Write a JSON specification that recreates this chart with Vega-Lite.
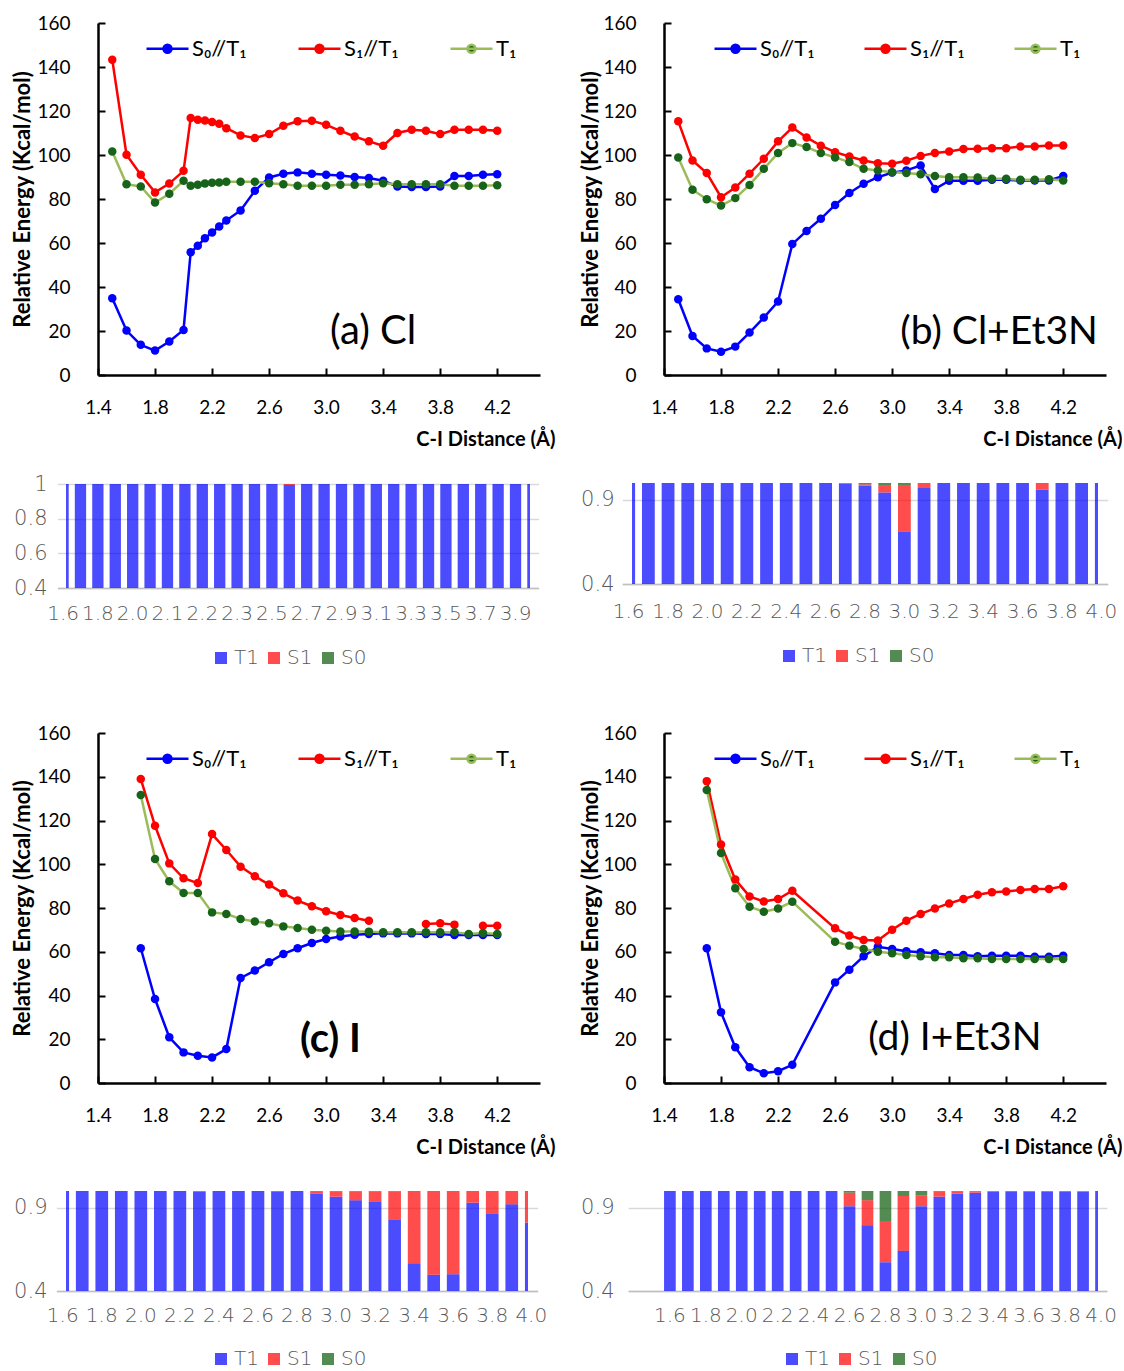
{
"$schema": "https://vega.github.io/schema/vega-lite/v6.json",
"background": "white",
"padding": {"left": 11, "top": 14, "right": 0, "bottom": 0},
"config": {"view": {"stroke": null}, "legend": {"padding": 0}},
"datasets": {
"lineA": [
{"x":1.5,"S0":34.9,"S1":143.3,"T1":101.6},{"x":1.6,"S0":20.2,"S1":100.1,"T1":86.7},{"x":1.7,"S0":13.7,"S1":91,"T1":85.7},{"x":1.8,"S0":11.1,"S1":83,"T1":78.4},{"x":1.9,"S0":15.2,"S1":87,"T1":82.4},{"x":2.0,"S0":20.5,"S1":92.8,"T1":88.3},{"x":2.05,"S0":55.8,"S1":116.8,"T1":86},{"x":2.1,"S0":58.7,"S1":116,"T1":86.5},{"x":2.15,"S0":62.2,"S1":115.7,"T1":87},{"x":2.2,"S0":64.8,"S1":115,"T1":87.4},{"x":2.25,"S0":67.5,"S1":114.2,"T1":87.5},{"x":2.3,"S0":70.2,"S1":112.2,"T1":87.8},{"x":2.4,"S0":74.8,"S1":108.9,"T1":87.8},{"x":2.5,"S0":83.7,"S1":107.7,"T1":87.8},{"x":2.6,"S0":89.8,"S1":109.5,"T1":87.2},{"x":2.7,"S0":91.5,"S1":113.3,"T1":86.7},{"x":2.8,"S0":92.1,"S1":115.3,"T1":86},{"x":2.9,"S0":91.5,"S1":115.6,"T1":86},{"x":3.0,"S0":91,"S1":113.7,"T1":86},{"x":3.1,"S0":90.7,"S1":111,"T1":86.5},{"x":3.2,"S0":90,"S1":108.4,"T1":86.5},{"x":3.3,"S0":89.5,"S1":106.2,"T1":86.7},{"x":3.4,"S0":88.3,"S1":104.2,"T1":87.2},{"x":3.5,"S0":85.7,"S1":110,"T1":86.7},{"x":3.6,"S0":85.4,"S1":111.5,"T1":86.7},{"x":3.7,"S0":85.4,"S1":111,"T1":86.7},{"x":3.8,"S0":85.7,"S1":109.5,"T1":86.7},{"x":3.9,"S0":90.5,"S1":111.5,"T1":86},{"x":4.0,"S0":90.5,"S1":111.5,"T1":86},{"x":4.1,"S0":91,"S1":111.5,"T1":86},{"x":4.2,"S0":91.3,"S1":111,"T1":86.2}
],
"lineB": [
{"x":1.5,"S0":34.4,"S1":115.3,"T1":98.9},{"x":1.6,"S0":17.7,"S1":97.5,"T1":84.2},{"x":1.7,"S0":12.1,"S1":91.8,"T1":79.9},{"x":1.8,"S0":10.6,"S1":80.8,"T1":77},{"x":1.9,"S0":12.9,"S1":85.2,"T1":80.4},{"x":2.0,"S0":19.3,"S1":91.5,"T1":86.4},{"x":2.1,"S0":26.1,"S1":98.3,"T1":93.7},{"x":2.2,"S0":33.4,"S1":106.2,"T1":100.9},{"x":2.3,"S0":59.5,"S1":112.5,"T1":105.4},{"x":2.4,"S0":65.5,"S1":108,"T1":103.6},{"x":2.5,"S0":71,"S1":104.2,"T1":100.9},{"x":2.6,"S0":77.3,"S1":101.3,"T1":98.9},{"x":2.7,"S0":82.7,"S1":99.3,"T1":96.8},{"x":2.8,"S0":86.9,"S1":97.5,"T1":93.7},{"x":2.9,"S0":89.9,"S1":96.3,"T1":93},{"x":3.0,"S0":92,"S1":96,"T1":92.2},{"x":3.1,"S0":93,"S1":97.4,"T1":91.8},{"x":3.2,"S0":95.2,"S1":99.6,"T1":91.3},{"x":3.3,"S0":84.5,"S1":100.9,"T1":90.5},{"x":3.4,"S0":88.3,"S1":101.6,"T1":89.9},{"x":3.5,"S0":88.3,"S1":102.7,"T1":89.9},{"x":3.6,"S0":88.3,"S1":102.8,"T1":89.8},{"x":3.7,"S0":88.7,"S1":103.1,"T1":89.2},{"x":3.8,"S0":88.7,"S1":103.1,"T1":89.2},{"x":3.9,"S0":88.4,"S1":103.9,"T1":88.7},{"x":4.0,"S0":88.4,"S1":103.9,"T1":88.7},{"x":4.1,"S0":88.4,"S1":104.3,"T1":89},{"x":4.2,"S0":90.5,"S1":104.3,"T1":88.4}
],
"lineC": [
{"x":1.7,"S0":61.6,"S1":139,"T1":131.7},{"x":1.8,"S0":38.4,"S1":117.6,"T1":102.4},{"x":1.9,"S0":20.9,"S1":100.4,"T1":92.2},{"x":2.0,"S0":14,"S1":93.6,"T1":86.9},{"x":2.1,"S0":12.5,"S1":91.4,"T1":86.9},{"x":2.2,"S0":11.7,"S1":113.8,"T1":78},{"x":2.3,"S0":15.5,"S1":106.5,"T1":77.3},{"x":2.4,"S0":48,"S1":98.9,"T1":75},{"x":2.5,"S0":51.4,"S1":94.5,"T1":73.8},{"x":2.6,"S0":55.2,"S1":90.7,"T1":73},{"x":2.7,"S0":59,"S1":86.7,"T1":71.6},{"x":2.8,"S0":61.6,"S1":83.4,"T1":70.9},{"x":2.9,"S0":64,"S1":80.8,"T1":70.1},{"x":3.0,"S0":65.8,"S1":78.5,"T1":69.6},{"x":3.1,"S0":67,"S1":76.8,"T1":69.3},{"x":3.2,"S0":67.8,"S1":75.4,"T1":69.3},{"x":3.3,"S0":68.1,"S1":74.2,"T1":69.2},{"x":3.4,"S0":68.4,"S1":null,"T1":68.9},{"x":3.5,"S0":68.4,"S1":null,"T1":68.9},{"x":3.6,"S0":68.4,"S1":null,"T1":68.9},{"x":3.7,"S0":68.1,"S1":72.7,"T1":68.9},{"x":3.8,"S0":68.1,"S1":73,"T1":68.9},{"x":3.9,"S0":67.7,"S1":72.4,"T1":68.9},{"x":4.0,"S0":67.7,"S1":null,"T1":68.1},{"x":4.1,"S0":67.7,"S1":71.9,"T1":68.6},{"x":4.2,"S0":67.7,"S1":71.9,"T1":68.1}
],
"lineD": [
{"x":1.7,"S0":61.6,"S1":138,"T1":133.9},{"x":1.8,"S0":32.3,"S1":109,"T1":105.1},{"x":1.9,"S0":16.3,"S1":93,"T1":89},{"x":2.0,"S0":7.2,"S1":85.3,"T1":80.6},{"x":2.1,"S0":4.5,"S1":83,"T1":78.3},{"x":2.2,"S0":5.4,"S1":84.1,"T1":79.8},{"x":2.3,"S0":8.3,"S1":87.9,"T1":82.9},{"x":2.6,"S0":46,"S1":70.7,"T1":64.6},{"x":2.7,"S0":51.8,"S1":67.4,"T1":62.8},{"x":2.8,"S0":57.9,"S1":65.4,"T1":61.3},{"x":2.9,"S0":62.3,"S1":65.1,"T1":60},{"x":3.0,"S0":61.3,"S1":70.1,"T1":59.3},{"x":3.1,"S0":60.2,"S1":74.2,"T1":58.5},{"x":3.2,"S0":59.8,"S1":77.3,"T1":57.9},{"x":3.3,"S0":59.3,"S1":79.8,"T1":57.5},{"x":3.4,"S0":58.5,"S1":82.1,"T1":57.5},{"x":3.5,"S0":58.5,"S1":84.1,"T1":57},{"x":3.6,"S0":57.9,"S1":86.1,"T1":57},{"x":3.7,"S0":58.2,"S1":87.2,"T1":56.7},{"x":3.8,"S0":58.2,"S1":87.5,"T1":56.7},{"x":3.9,"S0":58.2,"S1":88.2,"T1":56.7},{"x":4.0,"S0":57.7,"S1":88.7,"T1":56.7},{"x":4.1,"S0":57.7,"S1":88.7,"T1":56.7},{"x":4.2,"S0":58.2,"S1":89.9,"T1":56.7}
],
"barA": [
{"d":"1.6","T1":1,"S1":0,"S0":0},{"d":"1.7","T1":1,"S1":0,"S0":0},{"d":"1.8","T1":1,"S1":0,"S0":0},{"d":"1.9","T1":1,"S1":0,"S0":0},{"d":"2.0","T1":1,"S1":0,"S0":0},{"d":"2.05","T1":1,"S1":0,"S0":0},{"d":"2.1","T1":1,"S1":0,"S0":0},{"d":"2.15","T1":1,"S1":0,"S0":0},{"d":"2.2","T1":1,"S1":0,"S0":0},{"d":"2.25","T1":1,"S1":0,"S0":0},{"d":"2.3","T1":1,"S1":0,"S0":0},{"d":"2.4","T1":1,"S1":0,"S0":0},{"d":"2.5","T1":1,"S1":0,"S0":0},{"d":"2.6","T1":0.995,"S1":0.005,"S0":0},{"d":"2.7","T1":1,"S1":0,"S0":0},{"d":"2.8","T1":1,"S1":0,"S0":0},{"d":"2.9","T1":1,"S1":0,"S0":0},{"d":"3.0","T1":1,"S1":0,"S0":0},{"d":"3.1","T1":1,"S1":0,"S0":0},{"d":"3.2","T1":1,"S1":0,"S0":0},{"d":"3.3","T1":1,"S1":0,"S0":0},{"d":"3.4","T1":1,"S1":0,"S0":0},{"d":"3.5","T1":1,"S1":0,"S0":0},{"d":"3.6","T1":1,"S1":0,"S0":0},{"d":"3.7","T1":1,"S1":0,"S0":0},{"d":"3.8","T1":1,"S1":0,"S0":0},{"d":"3.9","T1":1,"S1":0,"S0":0},{"d":"4.0","T1":1,"S1":0,"S0":0}
],
"barB": [
{"d":"1.6","T1":1,"S1":0,"S0":0},{"d":"1.7","T1":1,"S1":0,"S0":0},{"d":"1.8","T1":1,"S1":0,"S0":0},{"d":"1.9","T1":1,"S1":0,"S0":0},{"d":"2.0","T1":1,"S1":0,"S0":0},{"d":"2.1","T1":1,"S1":0,"S0":0},{"d":"2.2","T1":1,"S1":0,"S0":0},{"d":"2.3","T1":1,"S1":0,"S0":0},{"d":"2.4","T1":1,"S1":0,"S0":0},{"d":"2.5","T1":1,"S1":0,"S0":0},{"d":"2.6","T1":1,"S1":0,"S0":0},{"d":"2.7","T1":0.994,"S1":0.004,"S0":0.002},{"d":"2.8","T1":0.984,"S1":0.008,"S0":0.008},{"d":"2.9","T1":0.944,"S1":0.044,"S0":0.012},{"d":"3.0","T1":0.71,"S1":0.278,"S0":0.012},{"d":"3.1","T1":0.97,"S1":0.03,"S0":0},{"d":"3.2","T1":1,"S1":0,"S0":0},{"d":"3.3","T1":1,"S1":0,"S0":0},{"d":"3.4","T1":1,"S1":0,"S0":0},{"d":"3.5","T1":1,"S1":0,"S0":0},{"d":"3.6","T1":1,"S1":0,"S0":0},{"d":"3.7","T1":0.96,"S1":0.04,"S0":0},{"d":"3.8","T1":1,"S1":0,"S0":0},{"d":"3.9","T1":1,"S1":0,"S0":0},{"d":"4.0","T1":1,"S1":0,"S0":0}
],
"barC": [
{"d":"1.6","T1":1,"S1":0,"S0":0},{"d":"1.7","T1":1,"S1":0,"S0":0},{"d":"1.8","T1":1,"S1":0,"S0":0},{"d":"1.9","T1":1,"S1":0,"S0":0},{"d":"2.0","T1":1,"S1":0,"S0":0},{"d":"2.1","T1":1,"S1":0,"S0":0},{"d":"2.2","T1":1,"S1":0,"S0":0},{"d":"2.3","T1":0.997,"S1":0.003,"S0":0},{"d":"2.4","T1":1,"S1":0,"S0":0},{"d":"2.5","T1":1,"S1":0,"S0":0},{"d":"2.6","T1":1,"S1":0,"S0":0},{"d":"2.7","T1":0.997,"S1":0,"S0":0.003},{"d":"2.8","T1":1,"S1":0,"S0":0},{"d":"2.9","T1":0.984,"S1":0.012,"S0":0.004},{"d":"3.0","T1":0.966,"S1":0.031,"S0":0.003},{"d":"3.1","T1":0.944,"S1":0.053,"S0":0.003},{"d":"3.2","T1":0.935,"S1":0.062,"S0":0.003},{"d":"3.3","T1":0.827,"S1":0.17,"S0":0.003},{"d":"3.4","T1":0.567,"S1":0.433,"S0":0},{"d":"3.5","T1":0.497,"S1":0.503,"S0":0},{"d":"3.6","T1":0.5,"S1":0.5,"S0":0},{"d":"3.7","T1":0.93,"S1":0.07,"S0":0},{"d":"3.8","T1":0.863,"S1":0.137,"S0":0},{"d":"3.9","T1":0.92,"S1":0.08,"S0":0},{"d":"4.0","T1":0.81,"S1":0.19,"S0":0}
],
"barD": [
{"d":"1.6","T1":1,"S1":0,"S0":0},{"d":"1.7","T1":1,"S1":0,"S0":0},{"d":"1.8","T1":1,"S1":0,"S0":0},{"d":"1.9","T1":1,"S1":0,"S0":0},{"d":"2.0","T1":1,"S1":0,"S0":0},{"d":"2.1","T1":1,"S1":0,"S0":0},{"d":"2.2","T1":1,"S1":0,"S0":0},{"d":"2.3","T1":1,"S1":0,"S0":0},{"d":"2.4","T1":1,"S1":0,"S0":0},{"d":"2.5","T1":1,"S1":0,"S0":0},{"d":"2.6","T1":0.909,"S1":0.081,"S0":0.01},{"d":"2.7","T1":0.794,"S1":0.151,"S0":0.055},{"d":"2.8","T1":0.573,"S1":0.242,"S0":0.185},{"d":"2.9","T1":0.641,"S1":0.329,"S0":0.03},{"d":"3.0","T1":0.909,"S1":0.065,"S0":0.026},{"d":"3.1","T1":0.966,"S1":0.03,"S0":0.004},{"d":"3.2","T1":0.984,"S1":0.012,"S0":0.004},{"d":"3.3","T1":0.99,"S1":0.008,"S0":0.002},{"d":"3.4","T1":0.994,"S1":0.004,"S0":0.002},{"d":"3.5","T1":0.997,"S1":0,"S0":0.003},{"d":"3.6","T1":0.997,"S1":0.003,"S0":0},{"d":"3.7","T1":0.997,"S1":0.003,"S0":0},{"d":"3.8","T1":0.997,"S1":0.003,"S0":0},{"d":"3.9","T1":0.996,"S1":0.004,"S0":0},{"d":"4.0","T1":1,"S1":0,"S0":0}
]
},
"columns": 2, "align": "none", "spacing": 24,
"resolve": {"scale": {"color": "independent", "fill": "independent", "x": "independent", "y": "independent"}, "legend": {"color": "independent", "fill": "independent"}, "axis": {"x": "independent", "y": "independent"}},
"concat": [
{"columns": 1, "align": "none", "spacing": 56,
 "resolve": {"scale": {"color": "independent", "fill": "independent", "x": "independent", "y": "independent"}, "legend": {"color": "independent", "fill": "independent"}},
 "concat": [
 {"columns": 1, "align": "none", "spacing": 24,
  "resolve": {"scale": {"color": "independent", "fill": "independent", "x": "independent", "y": "independent"}, "legend": {"color": "independent", "fill": "independent"}},
  "concat": [
  {"width": 474, "height": 352, "data": {"name": "lineA"},
   "layer": [
    {"transform": [{"fold": ["S0","S1","T1"], "as": ["s","E"]}],
     "mark": {"type": "line", "strokeWidth": 2.5},
     "encoding": {
      "x": {"field": "x", "type": "quantitative", "scale": {"domain": [1.4, 4.5], "range": [32, 474], "nice": false, "zero": false},
        "axis": {"values": [1.4,1.8,2.2,2.6,3.0,3.4,3.8,4.2], "format": ".1f", "grid": false, "domainColor": "#000", "domainWidth": 2.5, "tickColor": "#000", "tickWidth": 2, "tickSize": -7, "labelPadding": 30, "labelFont": "Lato", "labelFontSize": 19, "labelColor": "#000", "labelFlush": false, "labelOverlap": false, "title": "C-I Distance (Å)", "titleFont": "Lato", "titleFontSize": 20, "titleFontWeight": "bold", "titleColor": "#000", "titleAlign": "right", "titleAnchor": "end", "titleX": 489, "titleY": 64, "titleBaseline": "middle"}},
      "y": {"field": "E", "type": "quantitative", "scale": {"domain": [0, 160], "nice": false},
        "axis": {"offset": -32, "values": [0,20,40,60,80,100,120,140,160], "grid": false, "domainColor": "#000", "domainWidth": 2.5, "tickColor": "#000", "tickWidth": 2, "tickSize": -7, "labelPadding": 35, "labelFont": "Lato", "labelFontSize": 19, "labelColor": "#000", "labelFlush": false, "title": "Relative Energy (Kcal/mol)", "titleFont": "Lato", "titleFontSize": 22, "titleFontWeight": "bold", "titleColor": "#000", "titleX": -76, "titleY": 176, "titleAngle": -90, "titleAlign": "center", "titleBaseline": "middle"}},
      "color": {"field": "s", "type": "nominal", "scale": {"domain": ["S0","S1","T1"], "range": ["#0000FF","#FF0000","#9BBB59"]},
        "legend": {"orient": "none", "legendX": 79, "legendY": 3, "direction": "horizontal", "title": null, "symbolType": "M-1,0L1,0M-0.19,0A0.19,0.19,0,1,1,0.19,0A0.19,0.19,0,1,1,-0.19,0Z", "symbolSize": 1764, "symbolStrokeWidth": 2.5, "labelFont": "Lato", "labelFontSize": 22, "labelColor": "#000", "labelOffset": 2, "columnPadding": 46, "gridAlign": "all", "padding": 0, "labelExpr": "datum.label == 'S0' ? 'S₀//T₁' : datum.label == 'S1' ? 'S₁//T₁' : 'T₁'",
          "encode": {"symbols": {"update": {"fill": [{"test": "datum.value === 'T1'", "value": "#17631A"}, {"test": "datum.value === 'S1'", "value": "#FF0000"}, {"value": "#0000FF"}], "fillOpacity": {"value": 1}}}}}}
     }},
    {"transform": [{"fold": ["S0","S1","T1"], "as": ["s","E"]}],
     "mark": {"type": "point", "filled": true, "size": 72, "opacity": 1, "strokeWidth": 0},
     "encoding": {"x": {"field": "x", "type": "quantitative"}, "y": {"field": "E", "type": "quantitative"},
      "fill": {"field": "s", "type": "nominal", "scale": {"domain": ["S0","S1","T1"], "range": ["#0000FF","#FF0000","#17631A"]}, "legend": null}}},
    {"data": {"values": [{"t": "(a) Cl"}]},
     "mark": {"type": "text", "font": "Lato", "fontSize": 40, "color": "#000"},
     "encoding": {"x": {"datum": 3.33}, "y": {"datum": 19.5}, "text": {"field": "t"}}}
   ]},
  {"width": 464, "height": 104, "data": {"name": "barA"},
   "transform": [{"fold": ["T1","S1","S0"], "as": ["st","p"]}],
   "mark": {"type": "bar", "clip": true, "opacity": 0.7},
   "encoding": {
    "x": {"field": "d", "type": "ordinal", "scale": {"type": "band", "domain": ["1.6","1.7","1.8","1.9","2.0","2.05","2.1","2.15","2.2","2.25","2.3","2.4","2.5","2.6","2.7","2.8","2.9","3.0","3.1","3.2","3.3","3.4","3.5","3.6","3.7","3.8","3.9","4.0"], "range": [-8.59, 472.59], "paddingInner": 0.35, "paddingOuter": 0},
      "axis": {"values": ["1.6","1.8","2.0","2.1","2.2","2.3","2.5","2.7","2.9","3.1","3.3","3.5","3.7","3.9"], "labelAngle": 0, "labelOverlap": false, "labelFont": "DejaVu Sans", "labelFontWeight": 200, "labelFontSize": 20, "labelColor": "#595959", "labelPadding": 15, "ticks": false, "domainColor": "#BFBFBF", "domainWidth": 1.5, "title": null, "grid": false}},
    "y": {"field": "p", "type": "quantitative", "stack": "zero", "scale": {"domain": [0.4, 1], "nice": false, "zero": false},
      "axis": {"values": [0.4,0.6,0.8,1], "format": "~g", "grid": true, "gridColor": "#D9D9D9", "gridWidth": 1.5, "domain": false, "ticks": false, "labelFont": "DejaVu Sans", "labelFontWeight": 200, "labelFontSize": 21, "labelColor": "#595959", "labelPadding": 19, "title": null}},
    "color": {"field": "st", "type": "nominal", "scale": {"domain": ["T1","S1","S0"], "range": ["#0000FF","#FF0000","#0A5A0A"]},
      "legend": {"orient": "none", "legendX": 145, "legendY": 164, "direction": "horizontal", "title": null, "symbolType": "square", "symbolSize": 144, "symbolStrokeWidth": 0, "labelFont": "DejaVu Sans", "labelFontWeight": 200, "labelFontSize": 20, "labelColor": "#595959", "labelOffset": 3, "columnPadding": 5, "padding": 0}},
    "order": {"field": "st", "sort": "descending"}
   }}
 ]},
 {"columns": 1, "align": "none", "spacing": 34,
  "resolve": {"scale": {"color": "independent", "fill": "independent", "x": "independent", "y": "independent"}, "legend": {"color": "independent", "fill": "independent"}},
  "concat": [
  {"width": 474, "height": 350, "data": {"name": "lineC"},
   "layer": [
    {"transform": [{"fold": ["S0","S1","T1"], "as": ["s","E"]}],
     "mark": {"type": "line", "strokeWidth": 2.5},
     "encoding": {
      "x": {"field": "x", "type": "quantitative", "scale": {"domain": [1.4, 4.5], "range": [32, 474], "nice": false, "zero": false},
        "axis": {"values": [1.4,1.8,2.2,2.6,3.0,3.4,3.8,4.2], "format": ".1f", "grid": false, "domainColor": "#000", "domainWidth": 2.5, "tickColor": "#000", "tickWidth": 2, "tickSize": -7, "labelPadding": 30, "labelFont": "Lato", "labelFontSize": 19, "labelColor": "#000", "labelFlush": false, "labelOverlap": false, "title": "C-I Distance (Å)", "titleFont": "Lato", "titleFontSize": 20, "titleFontWeight": "bold", "titleColor": "#000", "titleAlign": "right", "titleAnchor": "end", "titleX": 489, "titleY": 64, "titleBaseline": "middle"}},
      "y": {"field": "E", "type": "quantitative", "scale": {"domain": [0, 160], "nice": false},
        "axis": {"offset": -32, "values": [0,20,40,60,80,100,120,140,160], "grid": false, "domainColor": "#000", "domainWidth": 2.5, "tickColor": "#000", "tickWidth": 2, "tickSize": -7, "labelPadding": 35, "labelFont": "Lato", "labelFontSize": 19, "labelColor": "#000", "labelFlush": false, "title": "Relative Energy (Kcal/mol)", "titleFont": "Lato", "titleFontSize": 22, "titleFontWeight": "bold", "titleColor": "#000", "titleX": -76, "titleY": 175, "titleAngle": -90, "titleAlign": "center", "titleBaseline": "middle"}},
      "color": {"field": "s", "type": "nominal", "scale": {"domain": ["S0","S1","T1"], "range": ["#0000FF","#FF0000","#9BBB59"]},
        "legend": {"orient": "none", "legendX": 79, "legendY": 3, "direction": "horizontal", "title": null, "symbolType": "M-1,0L1,0M-0.19,0A0.19,0.19,0,1,1,0.19,0A0.19,0.19,0,1,1,-0.19,0Z", "symbolSize": 1764, "symbolStrokeWidth": 2.5, "labelFont": "Lato", "labelFontSize": 22, "labelColor": "#000", "labelOffset": 2, "columnPadding": 46, "gridAlign": "all", "padding": 0, "labelExpr": "datum.label == 'S0' ? 'S₀//T₁' : datum.label == 'S1' ? 'S₁//T₁' : 'T₁'",
          "encode": {"symbols": {"update": {"fill": [{"test": "datum.value === 'T1'", "value": "#17631A"}, {"test": "datum.value === 'S1'", "value": "#FF0000"}, {"value": "#0000FF"}], "fillOpacity": {"value": 1}}}}}}
     }},
    {"transform": [{"fold": ["S0","S1","T1"], "as": ["s","E"]}],
     "mark": {"type": "point", "filled": true, "size": 72, "opacity": 1, "strokeWidth": 0},
     "encoding": {"x": {"field": "x", "type": "quantitative"}, "y": {"field": "E", "type": "quantitative"},
      "fill": {"field": "s", "type": "nominal", "scale": {"domain": ["S0","S1","T1"], "range": ["#0000FF","#FF0000","#17631A"]}, "legend": null}}},
    {"data": {"values": [{"t": "(c) I"}]},
     "mark": {"type": "text", "font": "Lato", "fontSize": 40, "fontWeight": "bold", "color": "#000"},
     "encoding": {"x": {"datum": 3.03}, "y": {"datum": 19.7}, "text": {"field": "t"}}}
   ]},
  {"width": 462, "height": 100, "data": {"name": "barC"},
   "transform": [{"fold": ["T1","S1","S0"], "as": ["st","p"]}],
   "mark": {"type": "bar", "clip": true, "opacity": 0.7},
   "encoding": {
    "x": {"field": "d", "type": "ordinal", "scale": {"type": "band", "domain": ["1.6","1.7","1.8","1.9","2.0","2.1","2.2","2.3","2.4","2.5","2.6","2.7","2.8","2.9","3.0","3.1","3.2","3.3","3.4","3.5","3.6","3.7","3.8","3.9","4.0"], "range": [-9.63, 471.63], "paddingInner": 0.35, "paddingOuter": 0},
      "axis": {"values": ["1.6","1.8","2.0","2.2","2.4","2.6","2.8","3.0","3.2","3.4","3.6","3.8","4.0"], "labelAngle": 0, "labelOverlap": false, "labelFont": "DejaVu Sans", "labelFontWeight": 200, "labelFontSize": 20, "labelColor": "#595959", "labelPadding": 14, "ticks": false, "domainColor": "#BFBFBF", "domainWidth": 1.5, "title": null, "grid": false}},
    "y": {"field": "p", "type": "quantitative", "stack": "zero", "scale": {"domain": [0.4, 1], "nice": false, "zero": false},
      "axis": {"values": [0.4,0.9], "format": "~g", "grid": true, "gridColor": "#D9D9D9", "gridWidth": 1.5, "domain": false, "ticks": false, "labelFont": "DejaVu Sans", "labelFontWeight": 200, "labelFontSize": 21, "labelColor": "#595959", "labelPadding": 19, "title": null}},
    "color": {"field": "st", "type": "nominal", "scale": {"domain": ["T1","S1","S0"], "range": ["#0000FF","#FF0000","#0A5A0A"]},
      "legend": {"orient": "none", "legendX": 145, "legendY": 158, "direction": "horizontal", "title": null, "symbolType": "square", "symbolSize": 144, "symbolStrokeWidth": 0, "labelFont": "DejaVu Sans", "labelFontWeight": 200, "labelFontSize": 20, "labelColor": "#595959", "labelOffset": 3, "columnPadding": 5, "padding": 0}},
    "order": {"field": "st", "sort": "descending"}
   }}
 ]}
]},
{"columns": 1, "align": "none", "spacing": 58,
 "resolve": {"scale": {"color": "independent", "fill": "independent", "x": "independent", "y": "independent"}, "legend": {"color": "independent", "fill": "independent"}},
 "concat": [
 {"columns": 1, "align": "none", "spacing": 34,
  "resolve": {"scale": {"color": "independent", "fill": "independent", "x": "independent", "y": "independent"}, "legend": {"color": "independent", "fill": "independent"}},
  "concat": [
  {"width": 474, "height": 352, "data": {"name": "lineB"},
   "layer": [
    {"transform": [{"fold": ["S0","S1","T1"], "as": ["s","E"]}],
     "mark": {"type": "line", "strokeWidth": 2.5},
     "encoding": {
      "x": {"field": "x", "type": "quantitative", "scale": {"domain": [1.4, 4.5], "range": [32, 474], "nice": false, "zero": false},
        "axis": {"values": [1.4,1.8,2.2,2.6,3.0,3.4,3.8,4.2], "format": ".1f", "grid": false, "domainColor": "#000", "domainWidth": 2.5, "tickColor": "#000", "tickWidth": 2, "tickSize": -7, "labelPadding": 30, "labelFont": "Lato", "labelFontSize": 19, "labelColor": "#000", "labelFlush": false, "labelOverlap": false, "title": "C-I Distance (Å)", "titleFont": "Lato", "titleFontSize": 20, "titleFontWeight": "bold", "titleColor": "#000", "titleAlign": "right", "titleAnchor": "end", "titleX": 490, "titleY": 64, "titleBaseline": "middle"}},
      "y": {"field": "E", "type": "quantitative", "scale": {"domain": [0, 160], "nice": false},
        "axis": {"offset": -32, "values": [0,20,40,60,80,100,120,140,160], "grid": false, "domainColor": "#000", "domainWidth": 2.5, "tickColor": "#000", "tickWidth": 2, "tickSize": -7, "labelPadding": 35, "labelFont": "Lato", "labelFontSize": 19, "labelColor": "#000", "labelFlush": false, "title": "Relative Energy (Kcal/mol)", "titleFont": "Lato", "titleFontSize": 22, "titleFontWeight": "bold", "titleColor": "#000", "titleX": -74, "titleY": 176, "titleAngle": -90, "titleAlign": "center", "titleBaseline": "middle"}},
      "color": {"field": "s", "type": "nominal", "scale": {"domain": ["S0","S1","T1"], "range": ["#0000FF","#FF0000","#9BBB59"]},
        "legend": {"orient": "none", "legendX": 81, "legendY": 3, "direction": "horizontal", "title": null, "symbolType": "M-1,0L1,0M-0.19,0A0.19,0.19,0,1,1,0.19,0A0.19,0.19,0,1,1,-0.19,0Z", "symbolSize": 1764, "symbolStrokeWidth": 2.5, "labelFont": "Lato", "labelFontSize": 22, "labelColor": "#000", "labelOffset": 2, "columnPadding": 44, "gridAlign": "all", "padding": 0, "labelExpr": "datum.label == 'S0' ? 'S₀//T₁' : datum.label == 'S1' ? 'S₁//T₁' : 'T₁'",
          "encode": {"symbols": {"update": {"fill": [{"test": "datum.value === 'T1'", "value": "#17631A"}, {"test": "datum.value === 'S1'", "value": "#FF0000"}, {"value": "#0000FF"}], "fillOpacity": {"value": 1}}}}}}
     }},
    {"transform": [{"fold": ["S0","S1","T1"], "as": ["s","E"]}],
     "mark": {"type": "point", "filled": true, "size": 72, "opacity": 1, "strokeWidth": 0},
     "encoding": {"x": {"field": "x", "type": "quantitative"}, "y": {"field": "E", "type": "quantitative"},
      "fill": {"field": "s", "type": "nominal", "scale": {"domain": ["S0","S1","T1"], "range": ["#0000FF","#FF0000","#17631A"]}, "legend": null}}},
    {"data": {"values": [{"t": "(b) Cl+Et3N"}]},
     "mark": {"type": "text", "font": "Lato", "fontSize": 39, "color": "#000"},
     "encoding": {"x": {"datum": 3.75}, "y": {"datum": 19.5}, "text": {"field": "t"}}}
   ]},
  {"width": 466, "height": 101, "data": {"name": "barB"},
   "transform": [{"fold": ["T1","S1","S0"], "as": ["st","p"]}],
   "mark": {"type": "bar", "clip": true, "opacity": 0.7},
   "encoding": {
    "x": {"field": "d", "type": "ordinal", "scale": {"type": "band", "domain": ["1.6","1.7","1.8","1.9","2.0","2.1","2.2","2.3","2.4","2.5","2.6","2.7","2.8","2.9","3.0","3.1","3.2","3.3","3.4","3.5","3.6","3.7","3.8","3.9","4.0"], "range": [-9.71, 475.71], "paddingInner": 0.35, "paddingOuter": 0},
      "axis": {"values": ["1.6","1.8","2.0","2.2","2.4","2.6","2.8","3.0","3.2","3.4","3.6","3.8","4.0"], "labelAngle": 0, "labelOverlap": false, "labelFont": "DejaVu Sans", "labelFontWeight": 200, "labelFontSize": 20, "labelColor": "#595959", "labelPadding": 17, "ticks": false, "domainColor": "#BFBFBF", "domainWidth": 1.5, "title": null, "grid": false}},
    "y": {"field": "p", "type": "quantitative", "stack": "zero", "scale": {"domain": [0.4, 1], "nice": false, "zero": false},
      "axis": {"values": [0.4,0.9], "format": "~g", "grid": true, "gridColor": "#D9D9D9", "gridWidth": 1.5, "domain": false, "ticks": false, "labelFont": "DejaVu Sans", "labelFontWeight": 200, "labelFontSize": 21, "labelColor": "#595959", "labelPadding": 18, "title": null}},
    "color": {"field": "st", "type": "nominal", "scale": {"domain": ["T1","S1","S0"], "range": ["#0000FF","#FF0000","#0A5A0A"]},
      "legend": {"orient": "none", "legendX": 147, "legendY": 163, "direction": "horizontal", "title": null, "symbolType": "square", "symbolSize": 144, "symbolStrokeWidth": 0, "labelFont": "DejaVu Sans", "labelFontWeight": 200, "labelFontSize": 20, "labelColor": "#595959", "labelOffset": 3, "columnPadding": 5, "padding": 0}},
    "order": {"field": "st", "sort": "descending"}
   }}
 ]},
 {"columns": 1, "align": "none", "spacing": 34,
  "resolve": {"scale": {"color": "independent", "fill": "independent", "x": "independent", "y": "independent"}, "legend": {"color": "independent", "fill": "independent"}},
  "concat": [
  {"width": 474, "height": 350, "data": {"name": "lineD"},
   "layer": [
    {"transform": [{"fold": ["S0","S1","T1"], "as": ["s","E"]}],
     "mark": {"type": "line", "strokeWidth": 2.5},
     "encoding": {
      "x": {"field": "x", "type": "quantitative", "scale": {"domain": [1.4, 4.5], "range": [32, 474], "nice": false, "zero": false},
        "axis": {"values": [1.4,1.8,2.2,2.6,3.0,3.4,3.8,4.2], "format": ".1f", "grid": false, "domainColor": "#000", "domainWidth": 2.5, "tickColor": "#000", "tickWidth": 2, "tickSize": -7, "labelPadding": 30, "labelFont": "Lato", "labelFontSize": 19, "labelColor": "#000", "labelFlush": false, "labelOverlap": false, "title": "C-I Distance (Å)", "titleFont": "Lato", "titleFontSize": 20, "titleFontWeight": "bold", "titleColor": "#000", "titleAlign": "right", "titleAnchor": "end", "titleX": 490, "titleY": 64, "titleBaseline": "middle"}},
      "y": {"field": "E", "type": "quantitative", "scale": {"domain": [0, 160], "nice": false},
        "axis": {"offset": -32, "values": [0,20,40,60,80,100,120,140,160], "grid": false, "domainColor": "#000", "domainWidth": 2.5, "tickColor": "#000", "tickWidth": 2, "tickSize": -7, "labelPadding": 35, "labelFont": "Lato", "labelFontSize": 19, "labelColor": "#000", "labelFlush": false, "title": "Relative Energy (Kcal/mol)", "titleFont": "Lato", "titleFontSize": 22, "titleFontWeight": "bold", "titleColor": "#000", "titleX": -74, "titleY": 175, "titleAngle": -90, "titleAlign": "center", "titleBaseline": "middle"}},
      "color": {"field": "s", "type": "nominal", "scale": {"domain": ["S0","S1","T1"], "range": ["#0000FF","#FF0000","#9BBB59"]},
        "legend": {"orient": "none", "legendX": 81, "legendY": 3, "direction": "horizontal", "title": null, "symbolType": "M-1,0L1,0M-0.19,0A0.19,0.19,0,1,1,0.19,0A0.19,0.19,0,1,1,-0.19,0Z", "symbolSize": 1764, "symbolStrokeWidth": 2.5, "labelFont": "Lato", "labelFontSize": 22, "labelColor": "#000", "labelOffset": 2, "columnPadding": 44, "gridAlign": "all", "padding": 0, "labelExpr": "datum.label == 'S0' ? 'S₀//T₁' : datum.label == 'S1' ? 'S₁//T₁' : 'T₁'",
          "encode": {"symbols": {"update": {"fill": [{"test": "datum.value === 'T1'", "value": "#17631A"}, {"test": "datum.value === 'S1'", "value": "#FF0000"}, {"value": "#0000FF"}], "fillOpacity": {"value": 1}}}}}}
     }},
    {"transform": [{"fold": ["S0","S1","T1"], "as": ["s","E"]}],
     "mark": {"type": "point", "filled": true, "size": 72, "opacity": 1, "strokeWidth": 0},
     "encoding": {"x": {"field": "x", "type": "quantitative"}, "y": {"field": "E", "type": "quantitative"},
      "fill": {"field": "s", "type": "nominal", "scale": {"domain": ["S0","S1","T1"], "range": ["#0000FF","#FF0000","#17631A"]}, "legend": null}}},
    {"data": {"values": [{"t": "(d) I+Et3N"}]},
     "mark": {"type": "text", "font": "Lato", "fontSize": 39, "color": "#000"},
     "encoding": {"x": {"datum": 3.44}, "y": {"datum": 20.5}, "text": {"field": "t"}}}
   ]},
  {"width": 466, "height": 100, "data": {"name": "barD"},
   "transform": [{"fold": ["T1","S1","S0"], "as": ["st","p"]}],
   "mark": {"type": "bar", "clip": true, "opacity": 0.7},
   "encoding": {
    "x": {"field": "d", "type": "ordinal", "scale": {"type": "band", "domain": ["1.4","1.5","1.6","1.7","1.8","1.9","2.0","2.1","2.2","2.3","2.4","2.5","2.6","2.7","2.8","2.9","3.0","3.1","3.2","3.3","3.4","3.5","3.6","3.7","3.8","3.9","4.0"], "range": [-3.87, 474.87], "paddingInner": 0.35, "paddingOuter": 0},
      "axis": {"values": ["1.6","1.8","2.0","2.2","2.4","2.6","2.8","3.0","3.2","3.4","3.6","3.8","4.0"], "labelAngle": 0, "labelOverlap": false, "labelFont": "DejaVu Sans", "labelFontWeight": 200, "labelFontSize": 20, "labelColor": "#595959", "labelPadding": 14, "ticks": false, "domainColor": "#BFBFBF", "domainWidth": 1.5, "title": null, "grid": false}},
    "y": {"field": "p", "type": "quantitative", "stack": "zero", "scale": {"domain": [0.4, 1], "nice": false, "zero": false},
      "axis": {"values": [0.4,0.9], "format": "~g", "grid": true, "gridColor": "#D9D9D9", "gridWidth": 1.5, "domain": false, "ticks": false, "labelFont": "DejaVu Sans", "labelFontWeight": 200, "labelFontSize": 21, "labelColor": "#595959", "labelPadding": 18, "title": null}},
    "color": {"field": "st", "type": "nominal", "scale": {"domain": ["T1","S1","S0"], "range": ["#0000FF","#FF0000","#0A5A0A"]},
      "legend": {"orient": "none", "legendX": 150, "legendY": 158, "direction": "horizontal", "title": null, "symbolType": "square", "symbolSize": 144, "symbolStrokeWidth": 0, "labelFont": "DejaVu Sans", "labelFontWeight": 200, "labelFontSize": 20, "labelColor": "#595959", "labelOffset": 3, "columnPadding": 5, "padding": 0}},
    "order": {"field": "st", "sort": "descending"}
   }}
 ]}
]}
]
}
